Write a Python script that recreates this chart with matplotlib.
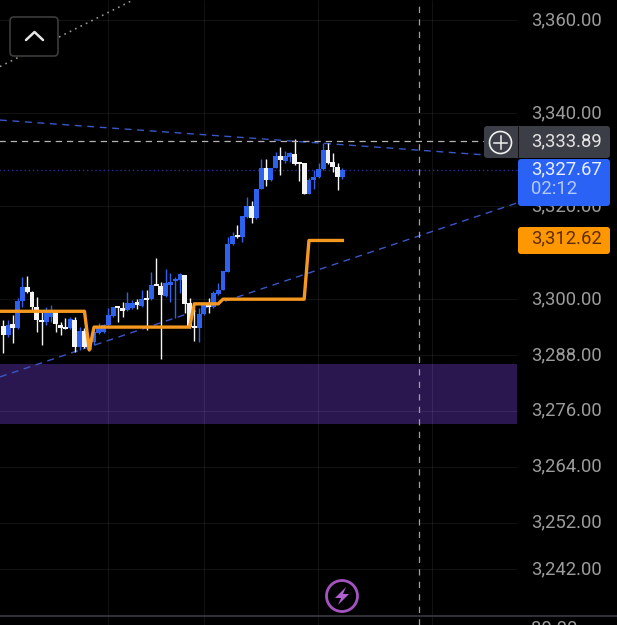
import matplotlib
matplotlib.use("Agg")
import matplotlib.pyplot as plt
import numpy as np
from matplotlib.patches import Circle, FancyBboxPatch, Rectangle, Polygon
from matplotlib.transforms import ScaledTranslation

plt.rcParams['font.family'] = ['Roboto', 'DejaVu Sans']

# OHLC candles
opens = [3294.2, 3292.3, 3294.6, 3293.8, 3299.6, 3302.6, 3301.6, 3298.3, 3295.5, 3295.1,
         3296.2, 3297.7, 3294.4, 3294.0, 3293.8, 3295.5, 3289.7, 3293.2, 3289.1, 3290.8,
         3292.7, 3292.9, 3294.4, 3296.4, 3298.3, 3297.9, 3297.7, 3298.1, 3299.2, 3298.6,
         3300.2, 3300.0, 3303.2, 3302.8, 3300.7, 3303.0, 3303.9, 3304.1, 3305.2, 3299.2,
         3294.0, 3293.8, 3296.8, 3298.8, 3298.3, 3301.1, 3302.0, 3305.9, 3311.9, 3313.8,
         3313.4, 3317.7, 3320.0, 3317.4, 3323.7, 3328.2, 3325.6, 3328.2, 3330.8, 3329.7,
         3330.6, 3331.2, 3329.2, 3329.3, 3322.6, 3325.6, 3326.3, 3328.0, 3332.1, 3329.5,
         3328.4, 3326.3]
highs = [3295.5, 3295.5, 3296.6, 3300.2, 3304.8, 3305.0, 3301.8, 3300.4, 3297.2, 3298.3,
         3298.7, 3297.7, 3295.1, 3296.0, 3296.2, 3296.2, 3294.0, 3293.8, 3291.6, 3293.4,
         3294.9, 3294.6, 3298.1, 3298.3, 3298.5, 3299.4, 3301.6, 3299.8, 3300.0, 3302.0,
         3302.0, 3305.8, 3308.9, 3303.7, 3306.5, 3305.6, 3304.8, 3305.6, 3305.2, 3300.2,
         3298.3, 3298.1, 3299.2, 3300.2, 3301.8, 3303.5, 3306.1, 3313.4, 3314.4, 3315.9,
         3317.9, 3322.0, 3321.1, 3323.7, 3330.1, 3330.1, 3328.2, 3331.6, 3332.7, 3331.8,
         3331.6, 3334.4, 3329.3, 3329.3, 3326.0, 3327.8, 3329.3, 3333.6, 3333.6, 3331.4,
         3329.3, 3328.2]
lows = [3288.4, 3291.9, 3290.6, 3293.6, 3298.3, 3301.3, 3297.7, 3293.0, 3290.1, 3294.4,
        3295.1, 3293.0, 3292.3, 3293.6, 3293.6, 3288.6, 3289.1, 3289.5, 3288.9, 3290.1,
        3292.5, 3292.7, 3294.2, 3296.2, 3295.1, 3296.2, 3297.5, 3297.9, 3297.9, 3298.3,
        3293.4, 3299.8, 3303.0, 3287.1, 3300.5, 3299.4, 3296.0, 3301.3, 3297.0, 3293.8,
        3291.0, 3290.8, 3296.6, 3297.0, 3298.1, 3300.9, 3301.9, 3305.8, 3311.6, 3313.2,
        3312.3, 3317.4, 3316.4, 3317.2, 3323.7, 3324.3, 3325.4, 3328.2, 3326.7, 3329.3,
        3329.5, 3328.8, 3325.4, 3322.6, 3322.6, 3323.7, 3326.0, 3327.8, 3329.0, 3327.3,
        3323.5, 3325.8]
closes = [3292.3, 3294.4, 3293.8, 3299.6, 3302.6, 3301.6, 3298.3, 3295.5, 3295.1, 3297.0,
          3297.7, 3294.6, 3293.8, 3293.6, 3295.7, 3289.7, 3293.2, 3289.7, 3291.2, 3292.9,
          3294.0, 3294.4, 3296.6, 3298.3, 3298.1, 3297.5, 3299.2, 3299.2, 3298.8, 3300.0,
          3299.8, 3303.0, 3302.8, 3300.9, 3303.5, 3303.7, 3304.3, 3305.4, 3299.0, 3294.0,
          3293.8, 3296.8, 3299.0, 3298.3, 3301.3, 3302.0, 3306.1, 3311.9, 3313.6, 3313.4,
          3317.9, 3320.0, 3317.4, 3323.7, 3328.2, 3325.6, 3328.2, 3330.8, 3329.9, 3330.8,
          3331.4, 3329.0, 3329.0, 3322.6, 3325.6, 3326.3, 3328.0, 3332.1, 3329.3, 3328.4,
          3326.3, 3327.67]

# Orange stepped level
level_bars = [-1, 17, 18, 19, 39, 40, 45, 46, 63, 64, 71]
level_vals = [3297.4, 3297.4, 3289.1, 3294.0, 3294.0, 3299.0, 3299.0, 3300.0, 3300.0, 3312.62, 3312.62]

# Price axis
tick_vals = [3360, 3340, 3320, 3300, 3288, 3276, 3264, 3252, 3242]
tick_text = ["3,360.00", "3,340.00", "3,320.00", "3,300.00", "3,288.00",
             "3,276.00", "3,264.00", "3,252.00", "3,242.00"]
grid_bars = [21.9, 42.0, 65.9, 89.8]

# Drawn studies
trend_upper_bars, trend_upper_vals = [-0.7, 100.9], [3338.5, 3331.0]
trend_lower_bars, trend_lower_vals = [-0.7, 107.6], [3283.3, 3320.7]
trend_dotted_bars, trend_dotted_vals = [-0.7, 27.2], [3350.0, 3364.3]
zone_low, zone_high = 3273.2, 3286.1
last_price, cross_price, level_price = 3327.67, 3333.89, 3312.62
cross_bar = 86.95

BLUE = "#2c62ee"
WHITE = "#f4f4f4"
PANE_END = 107.6

fig = plt.figure(figsize=(6.17, 6.25), dpi=100, facecolor="black")
ax = fig.add_axes([0, 0, 1, 1], facecolor="black")
ax.set_xlim(-0.69, 128.5)
ax.set_ylim(3364.3 - 625 / 4.653, 3364.3)
for side in ax.spines.values():
    side.set_visible(False)
ax.set_xticks([])
ax.yaxis.tick_right()
ax.set_yticks(tick_vals, tick_text)
ax.tick_params(axis="y", length=0, pad=-61.8, labelsize=13.3, labelcolor="#9c9c9c")
lift = ScaledTranslation(0, 1.5 / 72, fig.dpi_scale_trans)
for label in ax.get_yticklabels():
    label.set_transform(label.get_transform() + lift)

# Demand zone
ax.add_patch(Rectangle((-1, zone_low), PANE_END + 1, zone_high - zone_low,
                       facecolor="#2a1750", edgecolor="none", zorder=0.8))

# Grid
ax.hlines(tick_vals, -1, PANE_END, color="white", lw=0.7, alpha=0.08, zorder=1)
ax.vlines(grid_bars, ax.get_ylim()[0], ax.get_ylim()[1], color="white", lw=0.7, alpha=0.08, zorder=1)

# Reference lines
ax.plot(trend_dotted_bars, trend_dotted_vals, color="#8d9c86", lw=1.2, ls=(0, (1, 2.6)), zorder=2)
ax.plot(trend_upper_bars, trend_upper_vals, color="#3a56c8", lw=1, ls=(0, (5, 4)), zorder=2)
ax.plot(trend_lower_bars, trend_lower_vals, color="#3a56c8", lw=1, ls=(0, (5, 4)), zorder=2)
ax.hlines(last_price, -1, PANE_END, color="#2a2a9c", lw=1, ls=(0, (1, 2)), zorder=2)

# Candles
bars = np.arange(len(closes))
o, h, l, c = map(np.array, (opens, highs, lows, closes))
colors = [BLUE if cv >= ov else WHITE for ov, cv in zip(o, c)]
ax.vlines(bars, l, h, colors=colors, lw=1.0, zorder=3)
ax.bar(bars, np.maximum(np.abs(c - o), 0.5), bottom=np.minimum(o, c), width=1.02,
       color=colors, linewidth=0, zorder=3.2)

# Stepped level
ax.plot(level_bars, level_vals, color="#f5981f", lw=2.4, zorder=4, solid_joinstyle="round")

# Crosshair
ax.hlines(cross_price, -1, 100.9, color="#b4b4b4", lw=0.9, ls=(0, (5, 4)), zorder=5)
ax.vlines(cross_bar, *ax.get_ylim(), color="#a0a0a0", lw=0.9, ls=(0, (5, 5)), zorder=5)

# Interface layer in screen pixels
ui = fig.add_axes([0, 0, 1, 1], facecolor="none")
ui.set_xlim(0, 617)
ui.set_ylim(625, 0)
ui.axis("off")


def tag(x, y, w, h, face):
    ui.add_patch(FancyBboxPatch((x + 3, y + 3), w - 6, h - 6, boxstyle="round,pad=3,rounding_size=3",
                                facecolor=face, edgecolor="none"))


ui.hlines(616, 0, 617, color="#3a3a42", lw=1.2)
ui.text(531.5, 629.5, "80.00", color="#9c9c9c", fontsize=13.3, va="center")

# Collapse button
ui.add_patch(FancyBboxPatch((13, 20), 42, 33, boxstyle="round,pad=3,rounding_size=4",
                            facecolor="black", edgecolor="#3c3c3c", lw=1.2))
ui.plot([26, 34.5, 43], [40, 32, 40], color="#e6e6e6", lw=1.8, solid_capstyle="round")

# Price tags
tag(484, 126, 40, 32, "#3b3e46")
tag(518, 126, 92, 32, "#3b3e46")
ui.vlines(517.5, 126, 158, color="#111111", lw=0.7)
ui.add_patch(Circle((500.5, 142.5), 11, facecolor="none", edgecolor="#f0f0f0", lw=1.2))
ui.plot([494, 507], [142.5, 142.5], color="#f0f0f0", lw=1.1)
ui.plot([500.5, 500.5], [136, 149], color="#f0f0f0", lw=1.1)
ui.text(531, 141, "3,333.89", color="#e4e4e4", fontsize=13.3, va="center")

tag(518, 159, 92, 47, "#2962f5")
ui.text(531, 169, "3,327.67", color="#eaf0ff", fontsize=13.3, va="center")
ui.text(531, 189, "02:12", color="#b4c8fb", fontsize=13.3, va="center")

tag(518, 227, 92, 27, "#ff9800")
ui.text(531, 238.5, "3,312.62", color="#5e2c00", fontsize=13.3, va="center")

# Lightning badge
ui.add_patch(Circle((342, 596), 15.5, facecolor="none", edgecolor="#a653c2", lw=2))
ui.add_patch(Polygon([[346, 587], [335, 598], [341, 598], [338, 605], [349, 594], [343, 594]],
                     closed=True, facecolor="#b060d0", edgecolor="none"))

fig.savefig("out.png", dpi=100, facecolor="black")
